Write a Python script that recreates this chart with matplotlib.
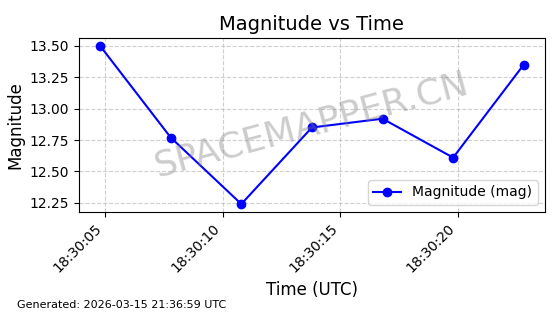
import matplotlib
matplotlib.use('Agg')
import matplotlib.dates as mdates
import matplotlib.pyplot as plt
import numpy as np
import pandas as pd

TIMES = ['2026-03-15 18:30:04.8', '2026-03-15 18:30:07.8', '2026-03-15 18:30:10.8',
         '2026-03-15 18:30:13.8', '2026-03-15 18:30:16.8', '2026-03-15 18:30:19.8',
         '2026-03-15 18:30:22.8']
MAGNITUDE = [13.50, 12.77, 12.24, 12.85, 12.92, 12.61, 13.35]
GENERATED = 'Generated: 2026-03-15 21:36:59 UTC'


def graph(filename):
  times = pd.to_datetime(TIMES)
  fig, ax = plt.subplots(figsize=(5.6, 3.14), dpi=100)
  ax.plot(times, MAGNITUDE, marker='o', color='blue', linewidth=1.5,
          markersize=6, label='Magnitude (mag)')
  ax.set_title('Magnitude vs Time', fontsize=14)
  ax.set_xlabel('Time (UTC)', fontsize=12)
  ax.set_ylabel('Magnitude', fontsize=12)
  ax.grid(True, linestyle='--', alpha=0.6)
  ax.xaxis.set_major_locator(mdates.SecondLocator(bysecond=range(0, 60, 5)))
  ax.xaxis.set_major_formatter(mdates.DateFormatter('%H:%M:%S'))
  plt.setp(ax.get_xticklabels(), rotation=45, ha='right')
  ax.legend(loc='lower right')
  ax.text(0.5, 0.5, 'SPACEMAPPER.CN', transform=ax.transAxes, fontsize=26,
          color='gray', alpha=0.4, ha='center', va='center', rotation=15)
  fig.subplots_adjust(left=0.141, right=0.973, top=0.879, bottom=0.325)
  fig.text(0.03, 0.02, GENERATED, fontsize=8)
  fig.savefig(filename, dpi=100)
  plt.close(fig)


graph('out.png')
